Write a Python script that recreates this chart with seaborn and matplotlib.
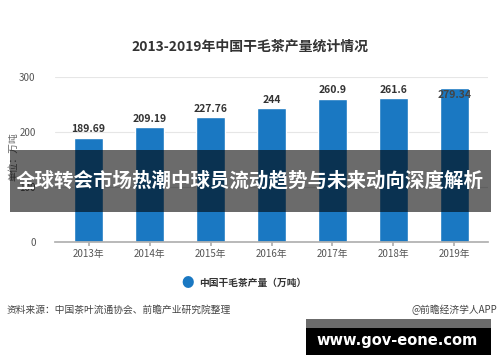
import matplotlib
matplotlib.use("Agg")
import matplotlib.pyplot as plt
import seaborn as sns
import pandas as pd
from matplotlib.patches import Rectangle

years = ["2013年", "2014年", "2015年", "2016年", "2017年", "2018年", "2019年"]
output = [189.69, 209.19, 227.76, 244, 260.9, 261.6, 279.34]
value_labels = ["189.69", "209.19", "227.76", "244", "260.9", "261.6", "279.34"]
y_ticks = [0, 100, 200, 300]

TITLE = "2013-2019年中国干毛茶产量统计情况"
BANNER = "全球转会市场热潮中球员流动趋势与未来动向深度解析"
LEGEND = "中国干毛茶产量（万吨）"
SOURCE = "资料来源：中国茶叶流通协会、前瞻产业研究院整理"
BRAND = "@前瞻经济学人APP"
SITE = "www.gov-eone.com"

BLUE = "#1a78c2"

sns.set_theme(style="white")
plt.rcParams["font.family"] = ["Noto Sans CJK SC", "DejaVu Sans"]

df = pd.DataFrame({"year": years, "output": output})

fig = plt.figure(figsize=(5, 3.62), dpi=100)
ax = fig.add_axes([0.11, 0.3315, 0.866, 0.4555])
sns.barplot(data=df, x="year", y="output", color=BLUE, width=0.49,
            saturation=1, ax=ax)

ax.set_ylim(0, 300)
ax.set_xlim(-0.55, 6.55)
ax.set_yticks(y_ticks)
ax.yaxis.grid(True, color="#e6e6e6", linewidth=0.8)
ax.set_axisbelow(True)
for s in ["top", "right", "left"]:
    ax.spines[s].set_visible(False)
ax.spines["bottom"].set_color("#b0b0b0")
ax.tick_params(axis="y", length=0, labelsize=7, labelcolor="#555555", pad=14)
ax.tick_params(axis="x", length=3, color="#b0b0b0", labelsize=7,
               labelcolor="#555555", pad=2, bottom=True)
ax.set_xlabel("")
ax.set_ylabel("单位：万吨", fontsize=7, color="#666666", labelpad=4)
ax.yaxis.set_label_coords(-0.085, 0.52)

# value labels; the last one sits inside the top of its bar
for i, (v, lab) in enumerate(zip(output, value_labels)):
    if i == len(output) - 1:
        ax.text(i, v - 12, lab, ha="center", va="center", fontsize=7.5,
                fontweight="bold", color="#444444")
    else:
        ax.text(i, v + 6, lab, ha="center", va="bottom",
                fontsize=7.5, fontweight="bold", color="#333333")

fig.text(0.5, 0.87, TITLE, ha="center", va="center", fontsize=10,
         fontweight="bold", color="#333333")

# legend
fig.text(0.376, 0.218, "●", ha="center", va="center", fontsize=9, color=BLUE)
fig.text(0.398, 0.218, LEGEND, ha="left", va="center", fontsize=7,
         fontweight="bold", color="#333333")

# footer
fig.text(0.013, 0.143, SOURCE, ha="left", va="center", fontsize=7, color="#444444")
fig.text(0.995, 0.143, BRAND, ha="right", va="center", fontsize=7, color="#444444")

# banner overlay
fig.patches.append(Rectangle((0.02, 1 - 212 / 362), 0.962, 62 / 362,
                             transform=fig.transFigure, facecolor="black",
                             alpha=0.58, edgecolor="none", zorder=10))
fig.text(0.5, 1 - 181 / 362, BANNER, ha="center", va="center", fontsize=14,
         fontweight="bold", color="white", zorder=11)

# site box
fig.patches.append(Rectangle((306 / 500, 1 - 328 / 362), 185 / 500, 9 / 362,
                             transform=fig.transFigure, facecolor="#6b6b6b",
                             edgecolor="none", zorder=10))
fig.patches.append(Rectangle((306 / 500, 1 - 355 / 362), 185 / 500, 27 / 362,
                             transform=fig.transFigure, facecolor="black",
                             edgecolor="none", zorder=10))
fig.text(397 / 500, 1 - 341 / 362, SITE, ha="center", va="center", fontsize=10.5,
         fontweight="bold", color="white", family="DejaVu Sans", zorder=11)

fig.savefig("out.png", dpi=100)
